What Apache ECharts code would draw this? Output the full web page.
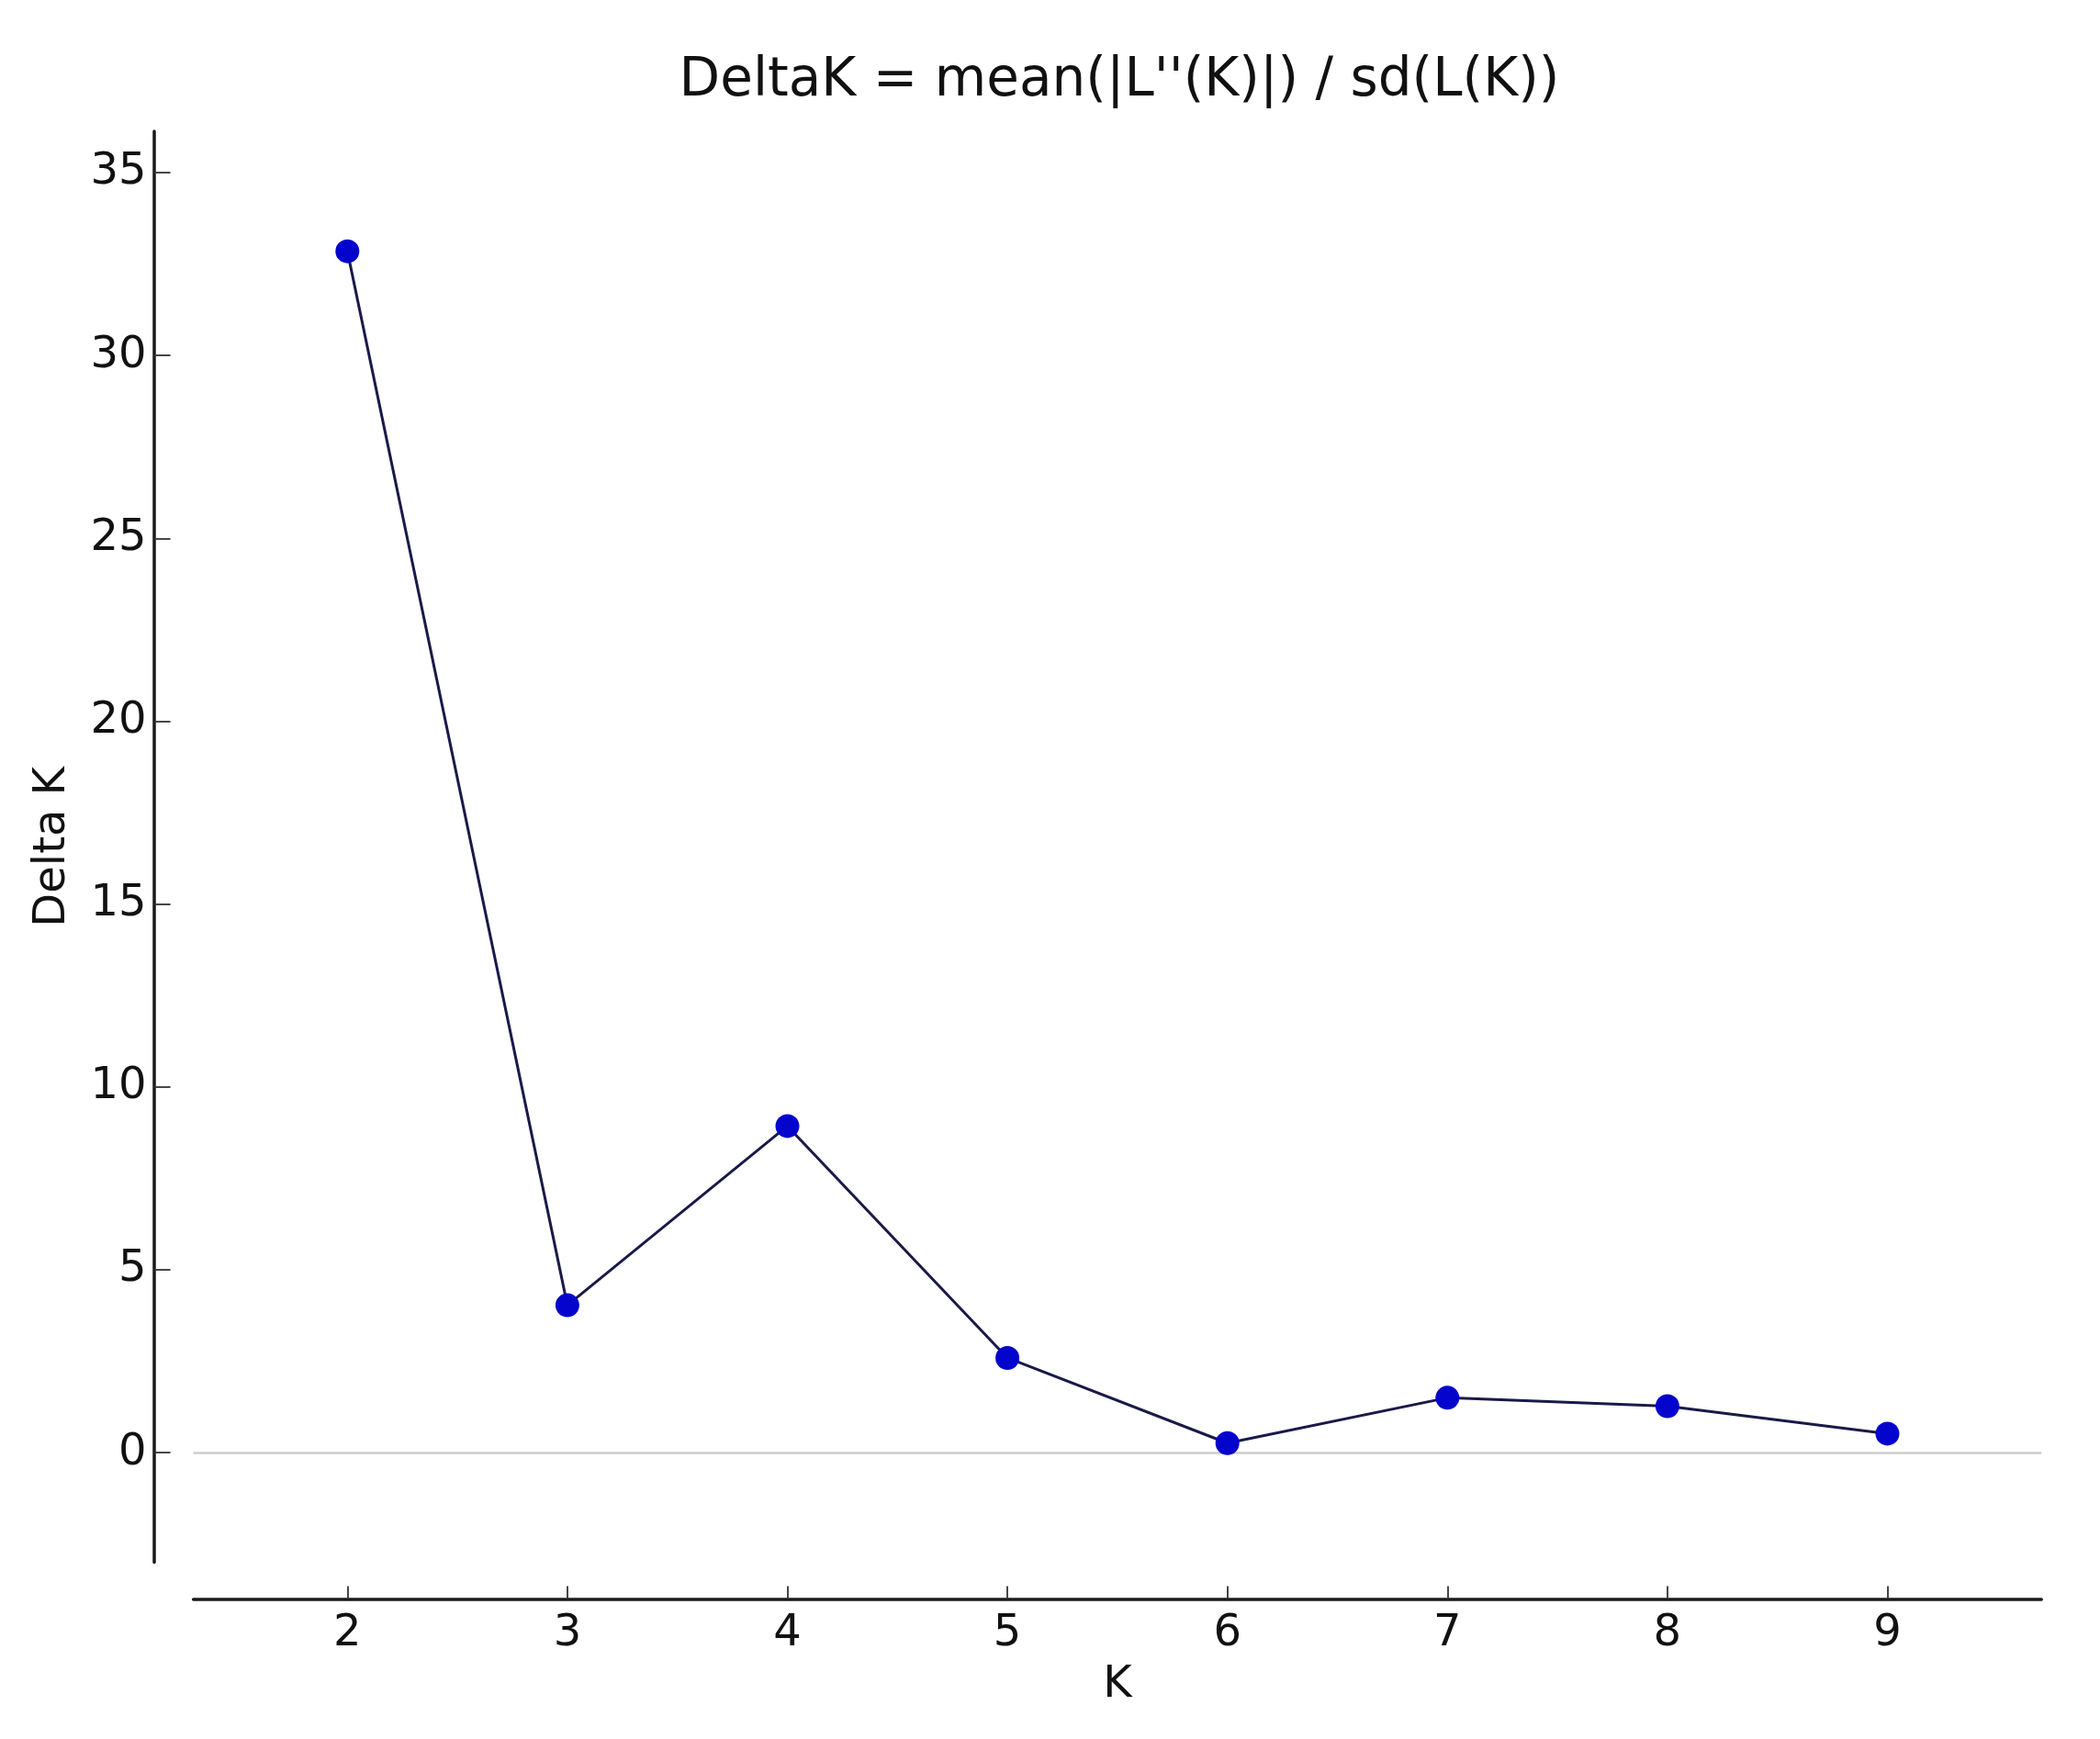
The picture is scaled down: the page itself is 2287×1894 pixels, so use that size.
<!DOCTYPE html>
<html>
<head>
<meta charset="utf-8">
<script src="https://cdn.jsdelivr.net/npm/echarts@6/dist/echarts.min.js"></script>
<style>
html,body{margin:0;padding:0;background:#fff;}
#chart{width:2287px;height:1894px;}
</style>
</head>
<body>
<div id="chart"></div>
<script>
const titleText = "DeltaK = mean(|L''(K)|) / sd(L(K))";
const xName = "K";
const yName = "Delta K";
const kValues = [2, 3, 4, 5, 6, 7, 8, 9];
const deltaK = [32.85, 4.03, 8.93, 2.59, 0.26, 1.50, 1.27, 0.52];
const xTicks = [2, 3, 4, 5, 6, 7, 8, 9];
const yTicks = [0, 5, 10, 15, 20, 25, 30, 35];

const FONT = "DejaVu Sans";
const chart = echarts.init(document.getElementById('chart'), null, {renderer: 'canvas'});
const points = kValues.map((k, i) => [k, deltaK[i]]);

chart.setOption({
  animation: false,
  backgroundColor: '#ffffff',
  title: {
    text: titleText,
    left: 1219,
    top: 60,
    padding: 0,
    textAlign: 'center',
    textStyle: {fontFamily: FONT, fontSize: 58, fontWeight: 'normal', color: '#111'}
  },
  grid: {left: 210.6, right: 63.8, top: 143, bottom: 192.4, containLabel: false},
  xAxis: {
    type: 'value',
    min: 1.3,
    max: 9.7,
    offset: 40,
    name: xName,
    nameLocation: 'middle',
    nameGap: 70,
    nameTextStyle: {fontFamily: FONT, fontSize: 48, color: '#111'},
    axisLine: {show: true, onZero: false, lineStyle: {color: '#1a1a1a', width: 3.5}},
    axisTick: {show: true, inside: true, length: 14, customValues: xTicks, lineStyle: {color: '#333', width: 1.8}},
    axisLabel: {show: true, customValues: xTicks, margin: 14, fontFamily: FONT, fontSize: 48, color: '#111'},
    splitLine: {show: false}
  },
  yAxis: {
    type: 'value',
    min: -3,
    max: 36.13,
    offset: 43,
    name: yName,
    nameLocation: 'middle',
    nameGap: 86,
    nameRotate: 90,
    nameTextStyle: {fontFamily: FONT, fontSize: 48, color: '#111'},
    axisLine: {show: true, onZero: false, lineStyle: {color: '#1a1a1a', width: 3.5}},
    axisTick: {show: true, inside: true, length: 18, customValues: yTicks, lineStyle: {color: '#333', width: 1.8}},
    axisLabel: {show: true, customValues: yTicks, margin: 8, fontFamily: FONT, fontSize: 48, color: '#111'},
    splitLine: {show: false}
  },
  series: [{
    type: 'line',
    data: points,
    symbol: 'circle',
    symbolSize: 26,
    itemStyle: {color: '#0404cc', borderWidth: 0},
    lineStyle: {color: '#1a1a48', width: 3},
    z: 3,
    markLine: {
      silent: true,
      symbol: ['none', 'none'],
      label: {show: false},
      lineStyle: {color: '#cccccc', width: 2.5, type: 'solid'},
      data: [{yAxis: 0}],
      z: 1
    }
  }]
});
</script>
</body>
</html>
